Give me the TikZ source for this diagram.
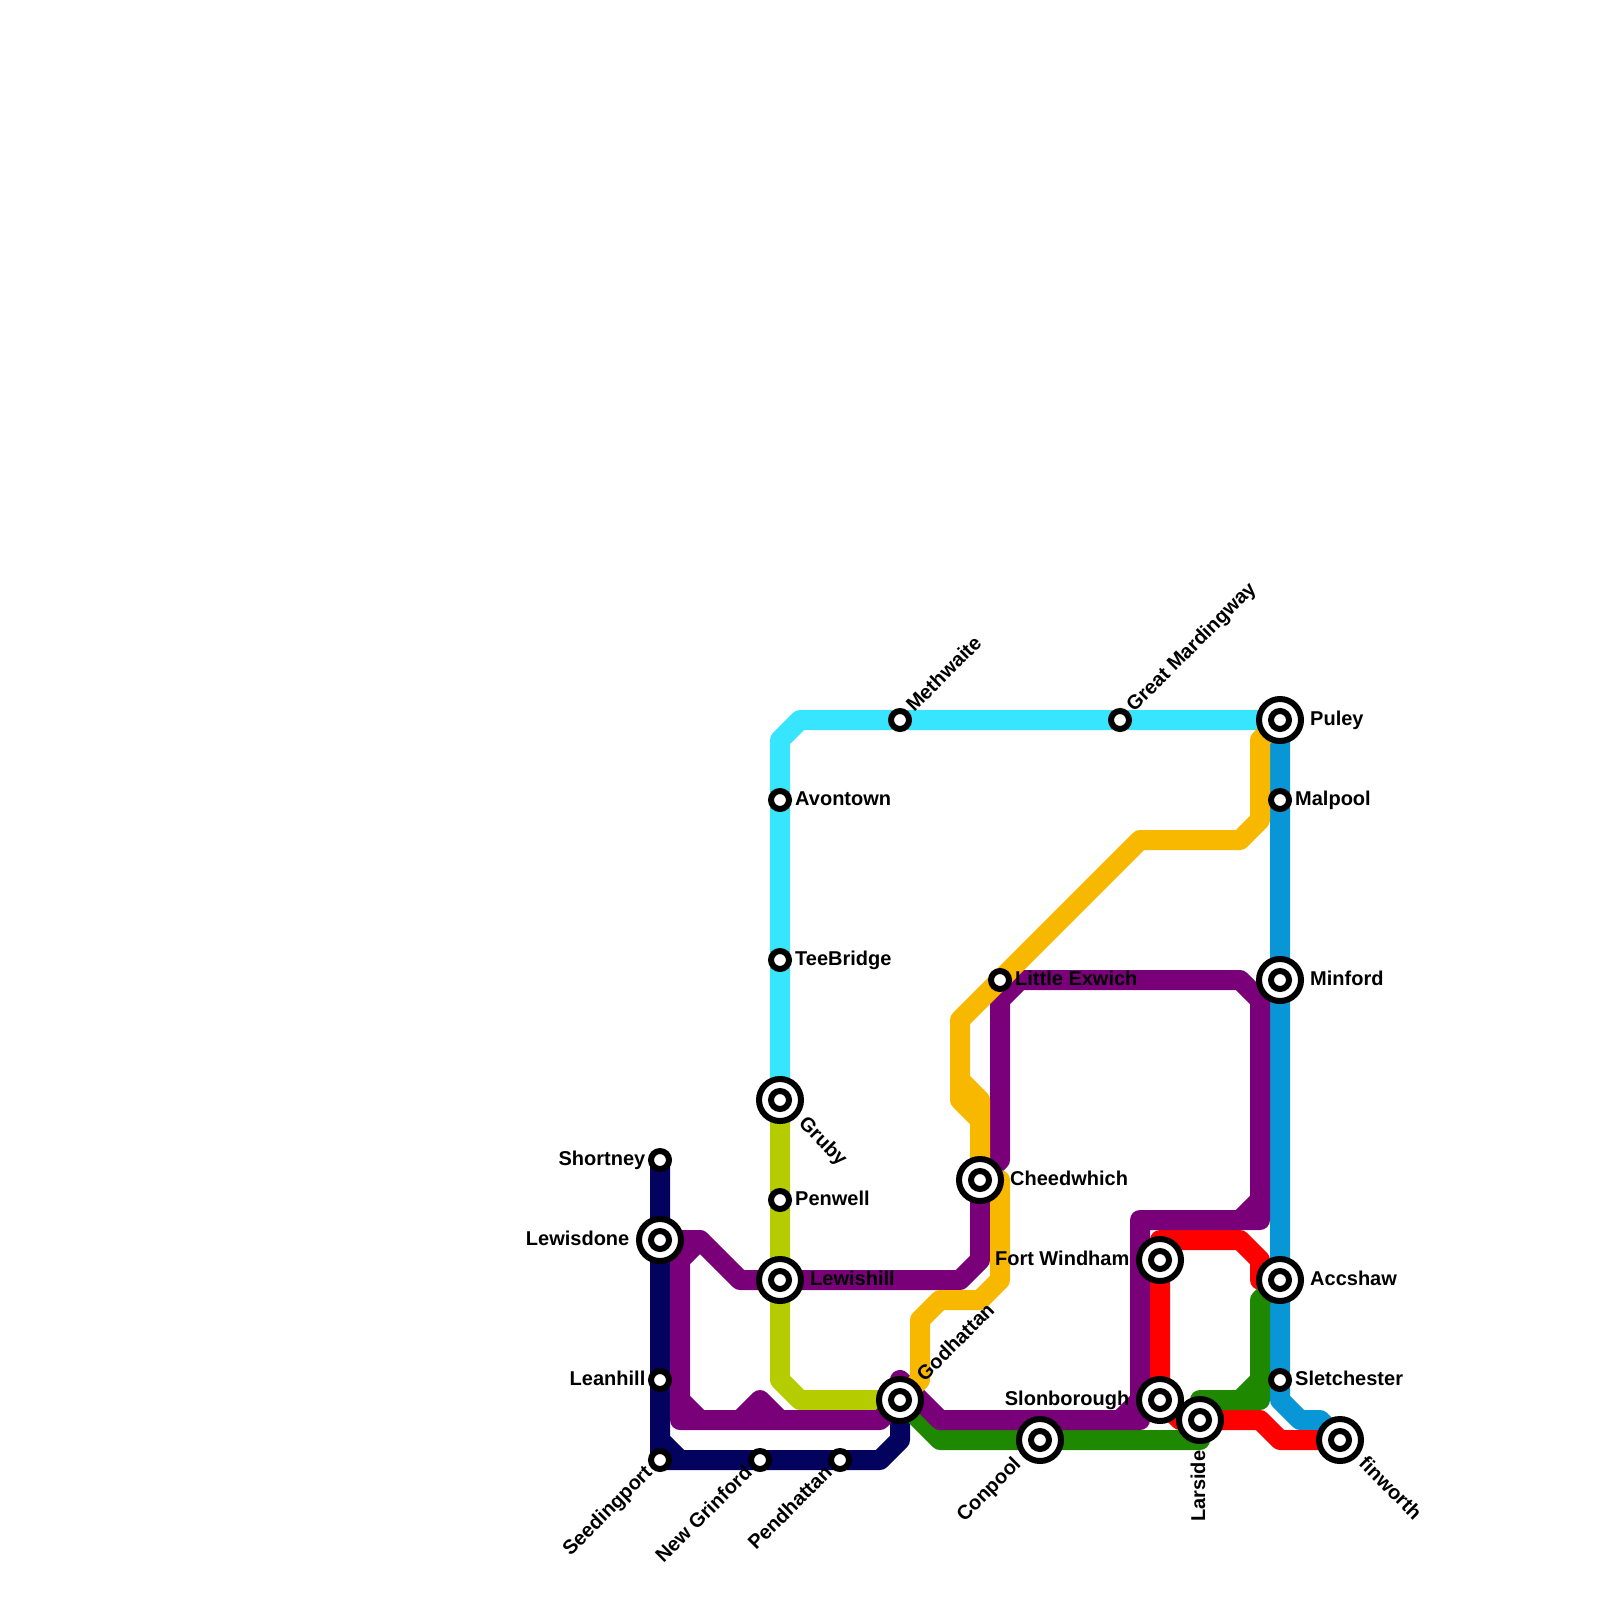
\documentclass[tikz,border=0pt]{standalone}
\usepackage{fontspec}
\setmainfont{Liberation Sans}
\usetikzlibrary{backgrounds}

\definecolor{cyanline}{HTML}{38E5FF}
\definecolor{blueline}{HTML}{0896D7}
\definecolor{navyline}{HTML}{03035F}
\definecolor{limeline}{HTML}{B5CC00}
\definecolor{purpleline}{HTML}{790079}
\definecolor{greenline}{HTML}{1E8800}
\definecolor{goldline}{HTML}{F8B800}

\begin{document}
\begin{tikzpicture}[
  x=1pt, y=-1pt,
  stop/.style={draw=black, circle, fill=white, line width=6pt, inner sep=0pt, minimum size=18pt},
  hub/.style={draw=black, circle, fill=white, line width=6pt, inner sep=0pt, minimum size=42pt},
  tag/.style={inner sep=0pt, text=black, font=\bfseries\fontsize{20}{24}\selectfont},
  offr/.style={anchor=base west, xshift=15pt, yshift=-5pt},
  farr/.style={anchor=base west, xshift=30pt, yshift=-5pt},
  offl/.style={anchor=base east, xshift=-14.5pt, yshift=-5pt},
  farl/.style={anchor=base east, xshift=-30.5pt, yshift=-5pt},
  route/.style={line width=20pt, line cap=round, line join=round}
]
\useasboundingbox (0,0) rectangle (1600,1600);

\node[stop] (shortney) at (660,1160) {};
\node[hub] (lewisdone) at (660,1240) {};
\node[stop] (lewisdonec) at (lewisdone) {};
\node[stop] (leanhill) at (660,1380) {};
\node[stop] (seedingport) at (660,1460) {};
\node[stop] (newgrinford) at (760,1460) {};
\node[stop] (pendhattan) at (840,1460) {};

\node[stop] (avontown) at (780,800) {};
\node[stop] (teebridge) at (780,960) {};
\node[hub] (gruby) at (780,1100) {};
\node[stop] (grubyc) at (gruby) {};
\node[stop] (penwell) at (780,1200) {};
\node[hub] (lewishill) at (780,1280) {};
\node[stop] (lewishillc) at (lewishill) {};

\node[stop] (methwaite) at (900,720) {};
\node[stop] (mardingway) at (1120,720) {};
\node[hub] (godhattan) at (900,1400) {};
\node[stop] (godhattanc) at (godhattan) {};
\node[stop] (exwich) at (1000,980) {};
\node[hub] (cheedwhich) at (980,1180) {};
\node[stop] (cheedwhichc) at (cheedwhich) {};
\node[hub] (conpool) at (1040,1440) {};
\node[stop] (conpoolc) at (conpool) {};

\node[hub] (windham) at (1160,1260) {};
\node[stop] (windhamc) at (windham) {};
\node[hub] (slonborough) at (1160,1400) {};
\node[stop] (slonboroughc) at (slonborough) {};
\node[hub] (larside) at (1200,1420) {};
\node[stop] (larsidec) at (larside) {};

\node[hub] (puley) at (1280,720) {};
\node[stop] (puleyc) at (puley) {};
\node[stop] (malpool) at (1280,800) {};
\node[hub] (minford) at (1280,980) {};
\node[stop] (minfordc) at (minford) {};
\node[hub] (accshaw) at (1280,1280) {};
\node[stop] (accshawc) at (accshaw) {};
\node[stop] (sletchester) at (1280,1380) {};
\node[hub] (finworth) at (1340,1440) {};
\node[stop] (finworthc) at (finworth) {};

% names of the stops
\node[tag, offl] (shortneytag) at (shortney) {Shortney};
\node[tag, farl] (lewisdonetag) at (lewisdone) {Lewisdone};
\node[tag, offl] (leanhilltag) at (leanhill) {Leanhill};
\node[tag, rotate=45, offl] (seedingporttag) at (seedingport) {Seedingport};
\node[tag, rotate=45, offl] (newgrinfordtag) at (newgrinford) {New Grinford};
\node[tag, rotate=45, offl] (pendhattantag) at (pendhattan) {Pendhattan};
\node[tag, offr] (avontowntag) at (avontown) {Avontown};
\node[tag, offr] (teebridgetag) at (teebridge) {TeeBridge};
\node[tag, rotate=-45, farr] (grubytag) at (gruby) {Gruby};
\node[tag, offr] (penwelltag) at (penwell) {Penwell};
\node[tag, farr] (lewishilltag) at (lewishill) {Lewishill};
\node[tag, rotate=45, offr] (methwaitetag) at (methwaite) {Methwaite};
\node[tag, rotate=45, offr] (mardingwaytag) at (mardingway) {Great Mardingway};
\node[tag, rotate=45, farr] (godhattantag) at (godhattan) {Godhattan};
\node[tag, offr] (exwichtag) at (exwich) {Little Exwich};
\node[tag, farr] (cheedwhichtag) at (cheedwhich) {Cheedwhich};
\node[tag, rotate=45, farl] (conpooltag) at (conpool) {Conpool};
\node[tag, farl] (windhamtag) at (windham) {Fort Windham};
\node[tag, farl] (slonboroughtag) at (slonborough) {Slonborough};
\node[tag, rotate=90, farl] (larsidetag) at (larside) {Larside};
\node[tag, farr] (puleytag) at (puley) {Puley};
\node[tag, offr] (malpooltag) at (malpool) {Malpool};
\node[tag, farr] (minfordtag) at (minford) {Minford};
\node[tag, farr] (accshawtag) at (accshaw) {Accshaw};
\node[tag, offr] (sletchestertag) at (sletchester) {Sletchester};
\node[tag, rotate=-45, farr] (finworthtag) at (finworth) {finworth};

\begin{scope}[on background layer]
\draw[route, limeline] (gruby.center) -- (penwell.center) -- (lewishill.center) -- (780,1380) -- (800,1400) -- (godhattan.center);
\draw[route, cyanline] (gruby.center) -- (teebridge.center) -- (avontown.center) -- (780,740) -- (800,720) -- (methwaite.center) -- (mardingway.center) -- (puley.center);
\draw[route, navyline] (shortney.center) -- (lewisdone.center) -- (leanhill.center) -- (660,1440) -- (680,1460) -- (seedingport.center) -- (660,1440) -- (seedingport.center) -- (newgrinford.center) -- (pendhattan.center) -- (880,1460) -- (900,1440) -- (godhattan.center);
\draw[route, blueline] (puley.center) -- (malpool.center) -- (minford.center) -- (accshaw.center) -- (sletchester.center) -- (1280,1400) -- (1300,1420) -- (1320,1420) -- (finworth.center);
\draw[route, red] (finworth.center) -- (1280,1440) -- (1260,1420) -- (larside.center) -- (1180,1420) -- (slonborough.center) -- (windham.center) -- (1160,1240) -- (1240,1240) -- (1260,1260) -- (1260,1280) -- (accshaw.center);
\draw[route, greenline] (godhattan.center) -- (940,1440) -- (conpool.center) -- (1200,1440) -- (larside.center) -- (1200,1400) -- (1260,1400) -- (1260,1380) -- (1240,1400) -- (1260,1380) -- (1260,1300) -- (accshaw.center);

% purple runs all the way round
\draw[route, purpleline] (lewisdone.center) -- (700,1240) -- (740,1280) -- (lewishill.center) -- (960,1280) -- (980,1260) -- (cheedwhich.center) -- (1000,1160) -- (1000,1000) -- (exwich.center) -- (1020,980) -- (1000,1000) -- (1020,980) -- (1240,980) -- (1260,1000) -- (1260,1220) -- (1240,1220) -- (1260,1200) -- (1240,1220) -- (1140,1220) -- (1140,1420) -- (1120,1420) -- (1140,1400) -- (1120,1420) -- (940,1420) -- (900,1380) -- (godhattan.center) -- (880,1420) -- (740,1420) -- (760,1400) -- (780,1420) -- (680,1420) -- (680,1400) -- (700,1420) -- (680,1400) -- (680,1260) -- (700,1240) -- (lewisdone.center);

\draw[route, goldline] (puley.center) -- (1260,740) -- (1260,820) -- (1240,840) -- (1140,840) -- (exwich.center) -- (960,1020) -- (960,1100) -- (980,1120) -- (980,1100) -- (960,1080) -- (980,1100) -- (cheedwhich.center) -- (1000,1180) -- (1000,1280) -- (980,1300) -- (940,1300) -- (920,1320) -- (920,1380) -- (godhattan.center);
\end{scope}
\end{tikzpicture}
\end{document}
